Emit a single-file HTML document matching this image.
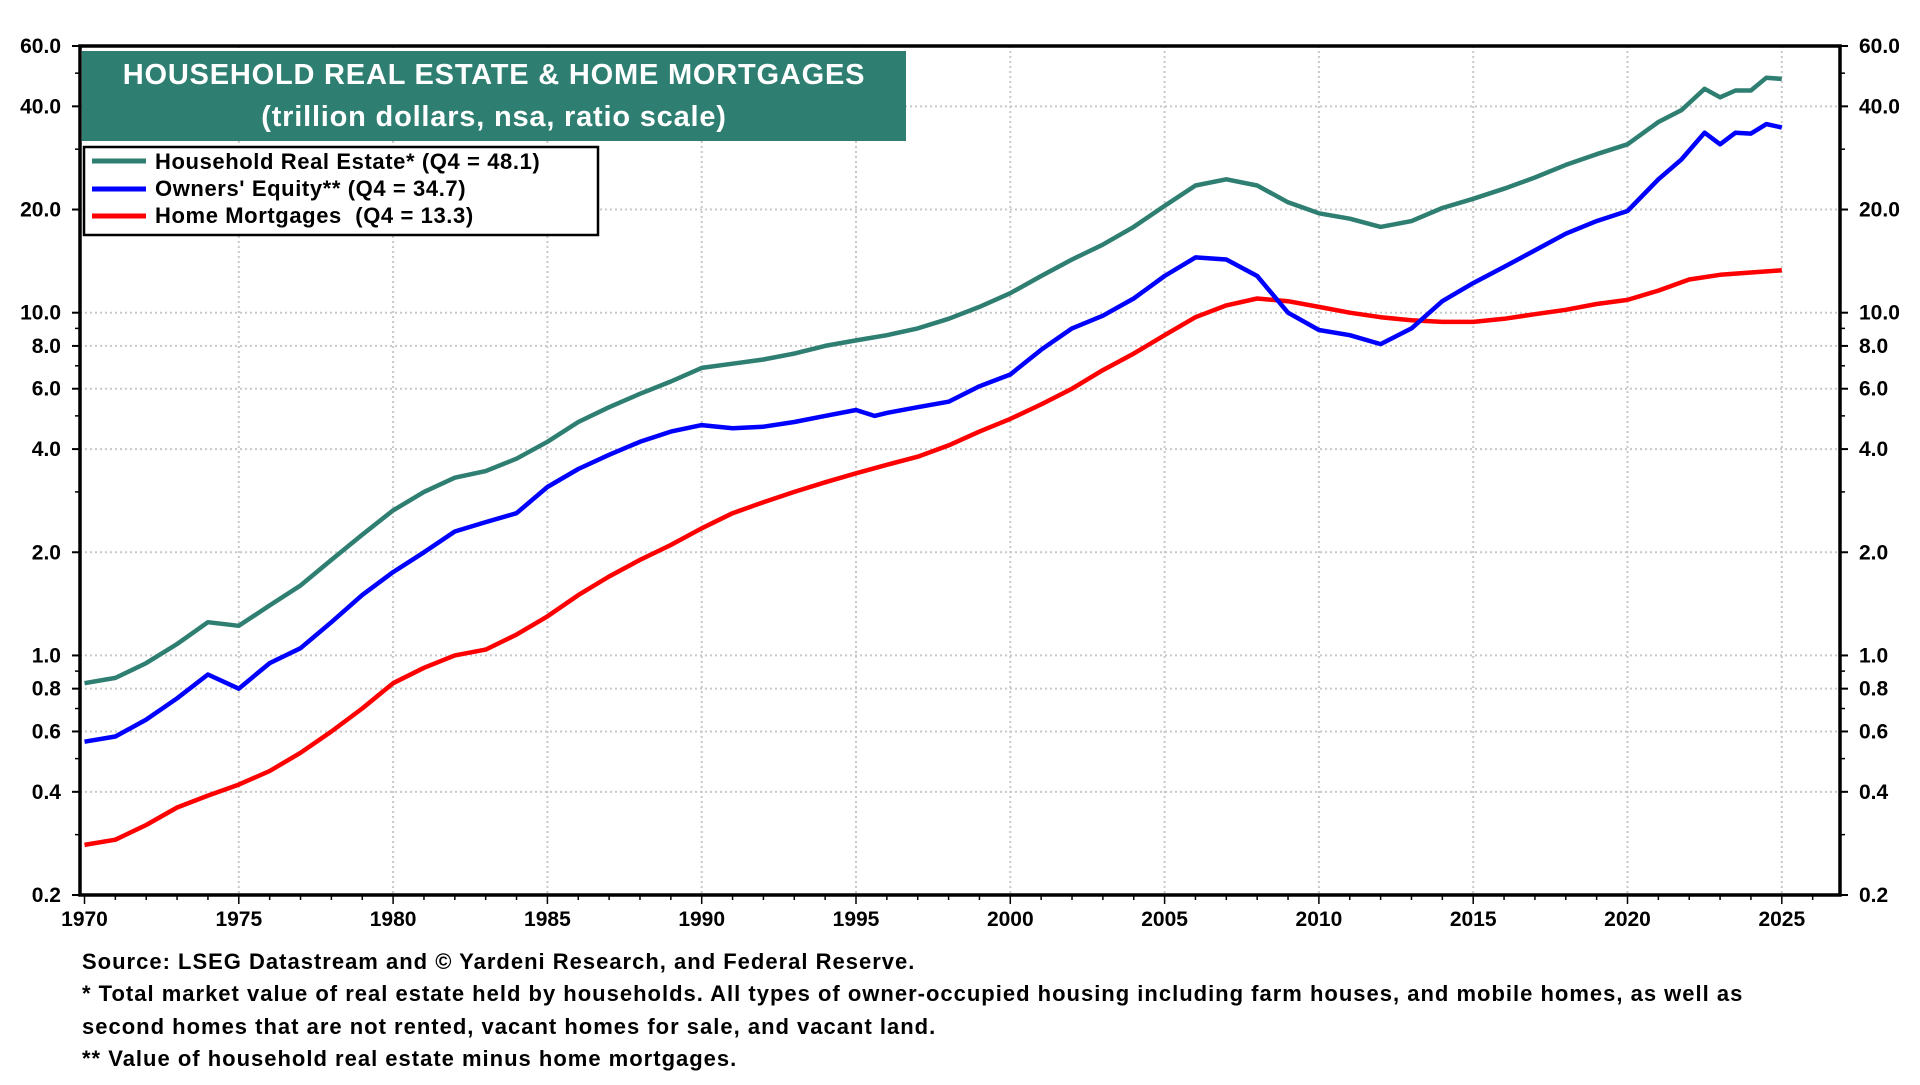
<!DOCTYPE html>
<html><head><meta charset="utf-8"><style>
html,body{margin:0;padding:0;background:#fff;}
body{width:1920px;height:1080px;overflow:hidden;font-family:"Liberation Sans",Arial,sans-serif;}
svg text{font-family:"Liberation Sans",Arial,sans-serif;font-weight:bold;}
</style></head><body>
<svg id="chart" width="1920" height="1080" viewBox="0 0 1920 1080" xmlns="http://www.w3.org/2000/svg">
<g id="grid"></g>
<g id="series"></g>
<g id="axes"></g>
<rect x="82" y="51" width="824" height="90" fill="#2e7f72"/>
<text x="494" y="84" fill="#fff" font-size="29" letter-spacing="0.8" text-anchor="middle">HOUSEHOLD REAL ESTATE &amp; HOME MORTGAGES</text>
<text x="494" y="126" fill="#fff" font-size="29" letter-spacing="0.8" text-anchor="middle">(trillion dollars, nsa, ratio scale)</text>
<g>
<rect x="84" y="147" width="514" height="88" fill="#fff" stroke="#000" stroke-width="2.5"/>
<g><line x1="92" y1="161" x2="146" y2="161" stroke="#2e7f72" stroke-width="5"/><text x="155" y="169" font-size="22" letter-spacing="0.6">Household Real Estate* (Q4 = 48.1)</text></g>
<g><line x1="92" y1="189" x2="146" y2="189" stroke="#0000ff" stroke-width="5"/><text x="155" y="196" font-size="22" letter-spacing="0.6">Owners' Equity** (Q4 = 34.7)</text></g>
<g><line x1="92" y1="216" x2="146" y2="216" stroke="#ff0000" stroke-width="5"/><text x="155" y="223" font-size="22" letter-spacing="0.6" xml:space="preserve">Home Mortgages  (Q4 = 13.3)</text></g>
</g>
<g font-size="22" letter-spacing="1">
<text x="82" y="969">Source: LSEG Datastream and © Yardeni Research, and Federal Reserve.</text>
<text x="82" y="1001">* Total market value of real estate held by households. All types of owner-occupied housing including farm houses, and mobile homes, as well as</text>
<text x="82" y="1034">second homes that are not rented, vacant homes for sale, and vacant land.</text>
<text x="82" y="1066">** Value of household real estate minus home mortgages.</text>
</g>
</svg>
<script>
const yTicks=[0.2,0.4,0.6,0.8,1.0,2.0,4.0,6.0,8.0,10.0,20.0,40.0,60.0];
const xTicks=[1970,1975,1980,1985,1990,1995,2000,2005,2010,2015,2020,2025];
const reYears=[1970,1971,1972,1973,1974,1975,1976,1977,1978,1979,1980,1981,1982,1983,1984,1985,1986,1987,1988,1989,1990,1991,1992,1993,1994,1995,1996,1997,1998,1999,2000,2001,2002,2003,2004,2005,2006,2007,2008,2009,2010,2011,2012,2013,2014,2015,2016,2017,2018,2019,2020,2021,2021.75,2022.5,2023,2023.5,2024,2024.5,2025];
const reVals=[0.83,0.86,0.95,1.08,1.25,1.22,1.4,1.6,1.9,2.25,2.65,3.0,3.3,3.45,3.75,4.2,4.8,5.3,5.8,6.3,6.9,7.1,7.3,7.6,8.0,8.3,8.6,9.0,9.6,10.4,11.4,12.8,14.3,15.8,17.8,20.5,23.5,24.5,23.5,21,19.5,18.8,17.8,18.5,20.2,21.5,23,24.8,27,29,31,36,39,45,42.5,44.5,44.5,48.5,48.1];
const eqYears=[1970,1971,1972,1973,1974,1975,1976,1977,1978,1979,1980,1981,1982,1983,1984,1985,1986,1987,1988,1989,1990,1991,1992,1993,1994,1995,1995.6,1996,1997,1998,1999,2000,2001,2002,2003,2004,2005,2006,2007,2008,2009,2010,2011,2012,2013,2014,2015,2016,2017,2018,2019,2020,2021,2021.75,2022.5,2023,2023.5,2024,2024.5,2025];
const eqVals=[0.56,0.58,0.65,0.75,0.88,0.80,0.95,1.05,1.25,1.5,1.75,2.0,2.3,2.45,2.6,3.1,3.5,3.85,4.2,4.5,4.7,4.6,4.65,4.8,5.0,5.2,5.0,5.1,5.3,5.5,6.1,6.6,7.8,9.0,9.8,11.0,12.8,14.5,14.3,12.8,10.0,8.9,8.6,8.1,9.0,10.8,12.2,13.6,15.2,17.0,18.5,19.8,24.5,28,33.5,31,33.5,33.3,35.5,34.7];
const mgYears=[1970,1971,1972,1973,1974,1975,1976,1977,1978,1979,1980,1981,1982,1983,1984,1985,1986,1987,1988,1989,1990,1991,1992,1993,1994,1995,1996,1997,1998,1999,2000,2001,2002,2003,2004,2005,2006,2007,2008,2009,2010,2011,2012,2013,2014,2015,2016,2017,2018,2019,2020,2021,2022,2023,2024,2025];
const mgVals=[0.28,0.29,0.32,0.36,0.39,0.42,0.46,0.52,0.60,0.70,0.83,0.92,1.0,1.04,1.15,1.3,1.5,1.7,1.9,2.1,2.35,2.6,2.8,3.0,3.2,3.4,3.6,3.8,4.1,4.5,4.9,5.4,6.0,6.8,7.6,8.6,9.7,10.5,11.0,10.8,10.4,10.0,9.7,9.5,9.4,9.4,9.6,9.9,10.2,10.6,10.9,11.6,12.5,12.9,13.1,13.3];

const L=80,R=1840,T=46,B=895;
const yMin=0.2,yMax=60;
function xs(v){return 84.5+(v-1970)*30.86;}
function ys(v){return T+(Math.log(yMax/v)/Math.log(yMax/yMin))*(B-T);}
const NS="http://www.w3.org/2000/svg";
function mk(tag,attrs,parent){const e=document.createElementNS(NS,tag);for(const k in attrs)e.setAttribute(k,attrs[k]);parent.appendChild(e);return e;}
const grid=document.getElementById('grid'),axes=document.getElementById('axes'),ser=document.getElementById('series');
yTicks.forEach(v=>{
 if(v>yMin&&v<yMax){const g=mk('line',{x1:L,x2:R,y1:ys(v),y2:ys(v),stroke:'#c8c8c8','stroke-width':2,'stroke-dasharray':'2 3'},grid);
 
 }
 const lab=v.toFixed(1);
 const t1=mk('text',{x:61,y:ys(v)+7,'font-size':21,'text-anchor':'end'},axes);t1.textContent=lab;
 
 
 const t2=mk('text',{x:1859,y:ys(v)+7,'font-size':21},axes);t2.textContent=lab;
 
 
 mk('line',{x1:L-8,x2:L,y1:ys(v),y2:ys(v),stroke:'#000','stroke-width':2},axes);
 mk('line',{x1:R,x2:R+8,y1:ys(v),y2:ys(v),stroke:'#000','stroke-width':2},axes);
});
[0.3,0.5,0.7,0.9,3,5,7,9,30,50].forEach(v=>{
 mk('line',{x1:L-5,x2:L,y1:ys(v),y2:ys(v),stroke:'#000','stroke-width':1.5},axes);
 mk('line',{x1:R,x2:R+5,y1:ys(v),y2:ys(v),stroke:'#000','stroke-width':1.5},axes);
});
xTicks.forEach(v=>{
 if(v>1970){const g=mk('line',{x1:xs(v),x2:xs(v),y1:T,y2:B,stroke:'#c8c8c8','stroke-width':2,'stroke-dasharray':'2 3'},grid);
 
 }
 const t=mk('text',{x:xs(v),y:926,'font-size':21,'text-anchor':'middle'},axes);t.textContent=v;
 
 
});
for(let y=1970;y<=2026;y++){mk('line',{x1:xs(y),x2:xs(y),y1:B,y2:B+(y%5===0?9:5),stroke:'#000','stroke-width':1.5},axes);}
const frame=mk('path',{d:`M${L},${B} L${L},${T} L${R},${T} L${R},${B} Z`,fill:'none',stroke:'#000','stroke-width':3.5},axes);


function line(xa,va,color,name){
 const d=xa.map((x,i)=>(i?'L':'M')+xs(x).toFixed(1)+','+ys(va[i]).toFixed(1)).join(' ');
 const p=mk('path',{d:d,fill:'none',stroke:color,'stroke-width':4.5,'stroke-linejoin':'round'},ser);
 
 
}
line(mgYears,mgVals,'#ff0000','home-mortgages-line');
line(reYears,reVals,'#2e7f72','household-real-estate-line');
line(eqYears,eqVals,'#0000ff','owners-equity-line');
</script>
</body></html>
